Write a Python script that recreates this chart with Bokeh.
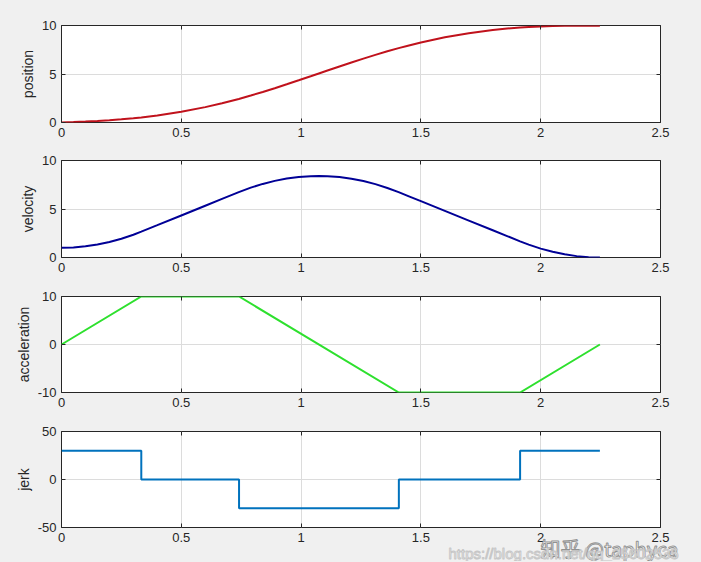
from bokeh.plotting import figure
from bokeh.layouts import column
from bokeh.models import FixedTicker, LinearAxis, CustomJSTickFormatter, Title
from bokeh.embed import file_html
from bokeh.resources import INLINE

# ---- data ----
x_ticks = [0, 0.5, 1, 1.5, 2, 2.5]

# sample times for the smooth curves
t = [0, 0.05, 0.1, 0.15, 0.2, 0.25, 0.3, 0.333, 0.4, 0.5, 0.6, 0.67, 0.74, 0.79, 0.84,
     0.89, 0.94, 0.99, 1.04, 1.074, 1.11, 1.16, 1.21, 1.26, 1.31, 1.36, 1.407, 1.45,
     1.5, 1.6, 1.7, 1.8, 1.86, 1.914, 1.95, 2.0, 2.05, 2.1, 2.15, 2.2, 2.247]

position = [0, 0.051, 0.105, 0.167, 0.24, 0.328, 0.435, 0.518, 0.719, 1.102, 1.586, 1.985,
            2.431, 2.78, 3.15, 3.538, 3.938, 4.35, 4.767, 5.053, 5.355, 5.773, 6.182, 6.583,
            6.97, 7.338, 7.665, 7.946, 8.249, 8.779, 9.21, 9.541, 9.691, 9.796, 9.85, 9.905,
            9.943, 9.965, 9.977, 9.981, 9.981]

velocity = [1.0, 1.038, 1.15, 1.338, 1.6, 1.938, 2.35, 2.667, 3.333, 4.333, 5.333, 6.037,
            6.737, 7.2, 7.587, 7.9, 8.137, 8.3, 8.387, 8.404, 8.384, 8.291, 8.124, 7.881,
            7.564, 7.171, 6.737, 6.307, 5.807, 4.807, 3.807, 2.807, 2.207, 1.667, 1.326,
            0.918, 0.584, 0.326, 0.142, 0.034, 0.0]

# acceleration breakpoints
acc_t = [0, 0.333, 0.741, 1.408, 1.914, 2.247]
acceleration = [0, 10, 10, -10, -10, 0]

# jerk steps
jerk_t = [0, 0.333, 0.741, 1.408, 1.914, 2.247]
jerk = [30, 0, -30, 0, 30, 30]

watermark_zh = "知乎 @taphyca"
watermark_url = "https://blog.csdn.net/qq_25602535"

panels = [
    dict(label="position", y=(0, 10), yt=[0, 5, 10], t=t, v=position, color="#c0121c", kind="line"),
    dict(label="velocity", y=(0, 10), yt=[0, 5, 10], t=t, v=velocity, color="#000096", kind="line"),
    dict(label="acceleration", y=(-10, 10), yt=[-10, 0, 10], t=acc_t, v=acceleration, color="#2ee02e", kind="line"),
    dict(label="jerk", y=(-50, 50), yt=[-50, 0, 50], t=jerk_t, v=jerk, color="#0072bd", kind="step"),
]

BG = "#f0f0f0"
TXT = "#262626"
FONT = "Liberation Sans"
fmt = CustomJSTickFormatter(code="return tick.toString();")
blank = CustomJSTickFormatter(code="return '';")

# (top border, frame height, bottom border)
geo = [(25, 97, 21), (17, 97, 21), (18, 96, 22), (17, 96, 34)]
figs = []
for i, pd_ in enumerate(panels):
    top, fh, bottom = geo[i]
    p = figure(frame_width=599, frame_height=fh,
               x_range=(0, 2.5), y_range=pd_["y"],
               output_backend="svg", toolbar_location=None,
               min_border_left=61, min_border_right=41,
               min_border_top=top, min_border_bottom=bottom)
    p.background_fill_color = "white"
    p.border_fill_color = BG
    p.outline_line_color = TXT
    p.outline_line_width = 1
    p.outline_line_alpha = 1

    xt = FixedTicker(ticks=x_ticks)
    yt = FixedTicker(ticks=pd_["yt"])
    for ax, tk in ((p.xaxis[0], xt), (p.yaxis[0], yt)):
        ax.ticker = tk
        ax.formatter = fmt
        ax.axis_line_color = None
        ax.major_tick_in = 4
        ax.major_tick_out = 0
        ax.major_tick_line_color = TXT
        ax.minor_tick_line_color = None
        ax.major_label_text_font = FONT
        ax.major_label_text_font_size = "13px"
        ax.major_label_text_color = TXT
        ax.major_label_standoff = 5
    p.yaxis[0].axis_label = pd_["label"]
    p.yaxis[0].axis_label_text_font = FONT
    p.yaxis[0].axis_label_text_font_size = "14px"
    p.yaxis[0].axis_label_text_font_style = "normal"
    p.yaxis[0].axis_label_text_color = TXT
    p.yaxis[0].axis_label_standoff = 3

    # mirrored inward ticks (MATLAB box style)
    ra = LinearAxis(ticker=FixedTicker(ticks=pd_["yt"]), formatter=blank,
                    axis_line_color=None, major_tick_in=4, major_tick_out=0,
                    major_tick_line_color=TXT, minor_tick_line_color=None,
                    major_label_standoff=0)
    ta = LinearAxis(ticker=FixedTicker(ticks=x_ticks), formatter=blank,
                    axis_line_color=None, major_tick_in=4, major_tick_out=0,
                    major_tick_line_color=TXT, minor_tick_line_color=None,
                    major_label_standoff=0)
    p.add_layout(ra, "right")
    p.add_layout(ta, "above")

    p.xgrid.ticker = xt
    p.ygrid.ticker = yt
    p.grid.grid_line_color = "#dcdcdc"
    p.grid.grid_line_width = 1

    if pd_["kind"] == "step":
        p.step(pd_["t"], pd_["v"], mode="after", line_color=pd_["color"], line_width=2)
    else:
        p.line(pd_["t"], pd_["v"], line_color=pd_["color"], line_width=2)
    figs.append(p)

# watermarks (side-panel titles, so they are not clipped to the frame)
p4 = figs[3]
wm_zh = Title(text=watermark_zh, align="left", vertical_align="top", offset=479,
              standoff=-22, text_font="Noto Sans CJK SC", text_font_size="20px",
              text_font_style="normal", text_color="white", text_outline_color="#8c8c8c",
              text_alpha=0.95)
wm_url = Title(text=watermark_url, align="left", vertical_align="top", offset=387,
               standoff=-17, text_font=FONT, text_font_size="15px",
               text_font_style="normal", text_color="#fafafa", text_outline_color="#c4c4c4",
               text_alpha=0.95)
p4.add_layout(wm_zh, "below")
p4.add_layout(wm_url, "below")

layout = column(*figs, spacing=0)
layout.background = BG
html = file_html(layout, INLINE)
html = html.replace("</head>", "<style>html, body { background: #f0f0f0 !important; }</style></head>", 1)
open("out.html", "w").write(html)
